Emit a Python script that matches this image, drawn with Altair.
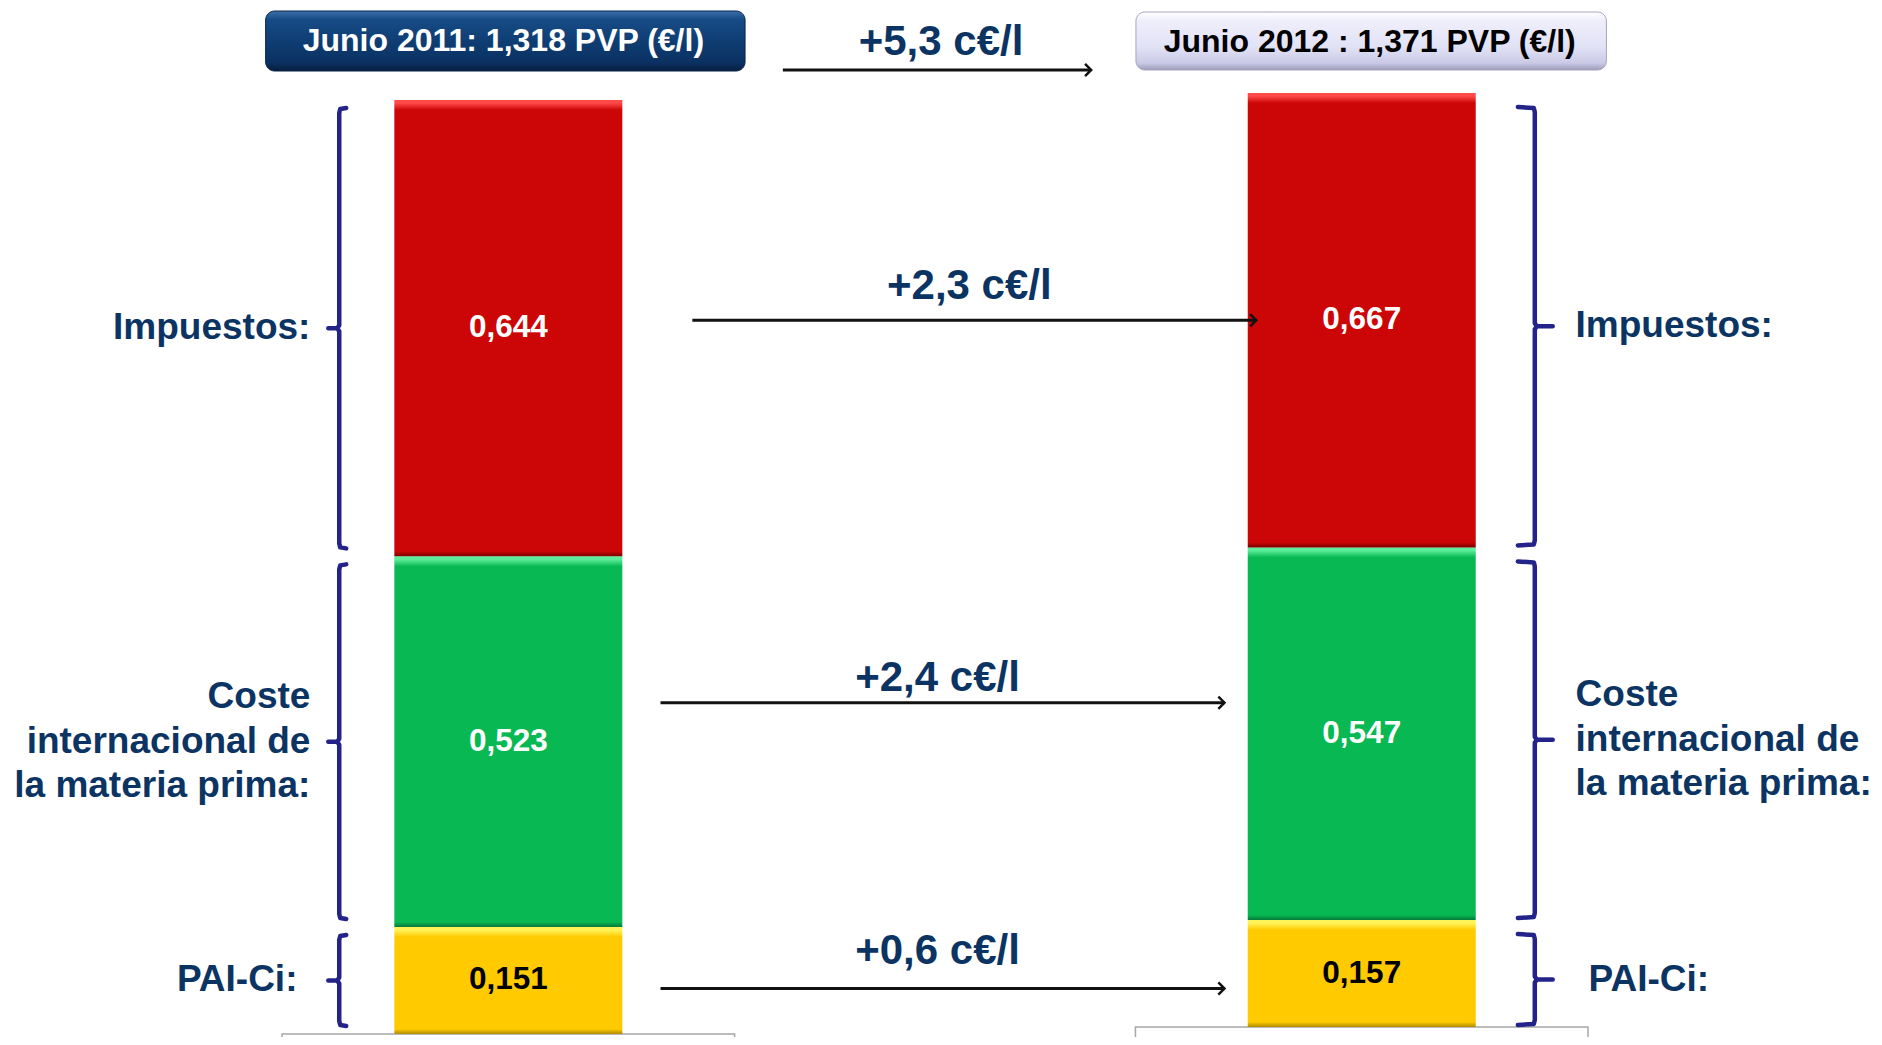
import altair as alt
import pandas as pd

# ---------------- data ----------------
YEARS = ["Junio 2011", "Junio 2012"]
HEADER_TEXT = ["Junio 2011: 1,318 PVP (€/l)", "Junio 2012 : 1,371 PVP (€/l)"]
PVP = [1.318, 1.371]
COMPONENTS = ["PAI-Ci", "Coste internacional de la materia prima", "Impuestos"]  # bottom -> top
COMPONENT_LABELS = ["PAI-Ci:", "Coste\ninternacional de\nla materia prima:", "Impuestos:"]
VALUES_2011 = [0.151, 0.523, 0.644]
VALUES_2012 = [0.157, 0.547, 0.667]

# ---------------- layout / style (pixels) ----------------
W, H = 1866, 1029
X0, DX = 498, 858          # pixel of first bar centre, pixels between bar centres
Y0, HY = 1026, 934         # pixel of stack base, pixels of a full (normalised) stack
YSHIFT = [0, -7]           # vertical offset of each bar
BRACE_SHIFT = [0, 6]       # extra vertical offset of each side's brackets
BAR_W = 228
FONT = "Liberation Sans"
NAVY = "#0B3463"
BRACE = "#23238A"
LINE_H = 44.5


def ux(px):
    return (px - X0) / DX


def uy(py):
    return (Y0 - py) / HY


def fy(frac, shift=0):
    return Y0 - HY * frac + shift


xs = alt.Scale(domain=[ux(0), ux(W)], nice=False, zero=False)
ys = alt.Scale(domain=[uy(H), uy(0)], nice=False, zero=False)


def X(f="x"):
    return alt.X(f"{f}:Q", scale=xs, axis=None)


def Y(f="y"):
    return alt.Y(f"{f}:Q", scale=ys, axis=None)


def fmt(v):
    return f"{v:.3f}".replace(".", ",")


# stacked (normalised) segments
rows = []
for i, vals in enumerate([VALUES_2011, VALUES_2012]):
    total = sum(vals)
    acc = 0.0
    for j, v in enumerate(vals):
        y0 = acc / total
        acc += v
        y1 = acc / total
        rows.append(dict(year=YEARS[i], idx=i, comp=COMPONENTS[j], j=j, value=v,
                         x=i, y=y0, y2=y1, mid=(y0 + y1) / 2, text=fmt(v)))
seg = pd.DataFrame(rows)

PALETTE = [("#FFF35A", "#FFCA00", "#B08A00"),
           ("#5CEE9A", "#08B852", "#05783A"),
           ("#FF4A4A", "#CC0606", "#780000")]
TEXT_COL = ["black", "white", "white"]

layers = []

# grey base boxes (partly visible below the bars)
for i in range(2):
    d = pd.DataFrame({"x": [i - 227.5 / DX], "x2": [i + 227.5 / DX], "y": [0.0]})
    layers.append(
        alt.Chart(d).mark_rect(fillOpacity=0, stroke="#A6A6A6", strokeWidth=1.5,
                               yOffset=YSHIFT[i])
        .encode(x=X("x"), x2="x2:Q", y=Y("y"), y2=alt.value(H + 60))
    )

# bars
for i in range(2):
    for j in range(3):
        d = seg[(seg.idx == i) & (seg.j == j)]
        h = HY * float(d.y2.iloc[0] - d.y.iloc[0])
        light, base, dark = PALETTE[j]
        grad = alt.Gradient(
            gradient="linear", x1=0, x2=0, y1=0, y2=1,
            stops=[alt.GradientStop(color=light, offset=0),
                   alt.GradientStop(color=light, offset=3 / h),
                   alt.GradientStop(color=base, offset=min(10 / h, 0.3)),
                   alt.GradientStop(color=base, offset=1 - 5 / h),
                   alt.GradientStop(color=dark, offset=1)])
        layers.append(
            alt.Chart(d).mark_bar(size=BAR_W, color=grad, yOffset=YSHIFT[i], y2Offset=YSHIFT[i])
            .encode(x=X("x"), y=Y("y"), y2="y2:Q")
        )
        layers.append(
            alt.Chart(d).mark_text(font=FONT, fontSize=31.5, fontWeight="bold",
                                   color=TEXT_COL[j], yOffset=YSHIFT[i], baseline="middle")
            .encode(x=X("x"), y=Y("mid"), text="text:N")
        )

# curly brackets and component labels
TIP = [7, 17]
POINT = [11, 18]
VX = [328, 1530]
GAP = 8
LABEL_X = [299, 1571]
LABEL_NUDGE = [13, 0, 0]   # outward shift of each component's label
brace_rows = []
label_rows = []
for r in seg.itertuples():
    side = r.idx
    sgn = 1 if side == 0 else -1
    sh = YSHIFT[side] + BRACE_SHIFT[side]
    top = fy(r.y2, sh) + GAP
    bot = fy(r.y, sh) - GAP
    mid = fy(r.mid, sh)
    vx = VX[side]
    tip = vx + sgn * TIP[side]
    pt = vx - sgn * POINT[side]
    pts = [(tip, top), (vx + sgn * 1, top + 1), (vx, top + 5), (vx, mid - 3), (vx - sgn * 2, mid),
           (pt, mid), (vx - sgn * 2, mid), (vx, mid + 3), (vx, bot - 5), (vx + sgn * 1, bot - 1),
           (tip, bot)]
    for k, (px, py) in enumerate(pts):
        brace_rows.append(dict(key=f"{side}-{r.j}", k=k, x=ux(px), y=uy(py)))
    lab = COMPONENT_LABELS[r.j]
    nlines = lab.count("\n") + 1
    label_rows.append(dict(side=side, x=ux(LABEL_X[side] - sgn * LABEL_NUDGE[r.j]),
                           y=uy(mid - (nlines - 1) * LINE_H / 2), label=lab))
braces = pd.DataFrame(brace_rows)
labels = pd.DataFrame(label_rows)

layers.append(
    alt.Chart(braces).mark_line(color=BRACE, strokeWidth=4.5, strokeJoin="round", strokeCap="round")
    .encode(x=X("x"), y=Y("y"), detail="key:N", order="k:Q")
)
for side, align in [(0, "right"), (1, "left")]:
    layers.append(
        alt.Chart(labels[labels.side == side]).mark_text(
            font=FONT, fontSize=37, fontWeight="bold", color=NAVY, align=align,
            baseline="middle", lineBreak="\n", lineHeight=LINE_H)
        .encode(x=X("x"), y=Y("y"), text="label:N")
    )

# change arrows
ARROW_X = [(651, 1218), (651, 1218), (683, 1250)]
ARROW_DY = [15, -31, 0]
TEXT_GAP = [38, 25, 34]
arrow_rows = []
for j in range(3):
    d11 = VALUES_2011[j]
    d12 = VALUES_2012[j]
    lab = "+" + f"{(d12 - d11) * 100:.1f}".replace(".", ",") + " c€/l"
    r = seg[(seg.idx == 1) & (seg.j == j)].iloc[0]
    ay = fy(r.mid, YSHIFT[1]) + ARROW_DY[j]
    x0, x1 = ARROW_X[j]
    arrow_rows.append(dict(x=ux(x0), x2=ux(x1), y=uy(ay), tx=ux((x0 + x1) / 2 - 5),
                           ty=uy(ay - TEXT_GAP[j]), label=lab))
tot_lab = "+" + f"{(PVP[1] - PVP[0]) * 100:.1f}".replace(".", ",") + " c€/l"
arrow_rows.append(dict(x=ux(774), x2=ux(1084), y=uy(62), tx=ux(933), ty=uy(34), label=tot_lab))
arrows = pd.DataFrame(arrow_rows)

CHEV = "M-1,-1L0,0L-1,1"
layers.append(
    alt.Chart(arrows).mark_rule(color="#111111", strokeWidth=3)
    .encode(x=X("x"), x2="x2:Q", y=Y("y"))
)
layers.append(
    alt.Chart(arrows).mark_point(shape=CHEV, size=150, filled=False, stroke="#111111",
                                 strokeWidth=2.5, opacity=1)
    .encode(x=X("x2"), y=Y("y"))
)
layers.append(
    alt.Chart(arrows).mark_text(font=FONT, fontSize=42, fontWeight="bold", color=NAVY,
                                baseline="middle")
    .encode(x=X("tx"), y=Y("ty"), text="label:N")
)

# header boxes
HDR = [dict(l=254, r=736, t=3, b=63, tx=493, ty=33, fg="white", stroke="#082448",
            stops=[("#3C70AA", 0), ("#174B86", 0.14), ("#0E3C71", 0.55), ("#0B3162", 0.86), ("#061E3E", 1)]),
       dict(l=1129, r=1602, t=4, b=62, tx=1364, ty=34, fg="black", stroke="#A5A5C0",
            stops=[("#FFFFFF", 0), ("#EEEEFB", 0.15), ("#E2E2F6", 0.6), ("#CACAE6", 0.88), ("#9C9CBA", 1)])]
for i in range(2):
    h = HDR[i]
    d = pd.DataFrame({"x": [ux(h["l"])], "x2": [ux(h["r"])], "tx": [ux(h["tx"])], "label": [HEADER_TEXT[i]]})
    grad = alt.Gradient(gradient="linear", x1=0, x2=0, y1=0, y2=1,
                        stops=[alt.GradientStop(color=c, offset=o) for c, o in h["stops"]])
    layers.append(
        alt.Chart(d).mark_rect(color=grad, cornerRadius=9, stroke=h["stroke"], strokeWidth=1)
        .encode(x=X("x"), x2="x2:Q", y=alt.value(h["t"]), y2=alt.value(h["b"]))
    )
    layers.append(
        alt.Chart(d).mark_text(font=FONT, fontSize=32, fontWeight="bold", color=h["fg"], baseline="middle")
        .encode(x=X("tx"), y=alt.value(h["ty"]), text="label:N")
    )

chart = (
    alt.layer(*layers)
    .properties(width=W, height=H, autosize=alt.AutoSizeParams(type="none"), padding=0,
                background="white")
    .configure_view(strokeWidth=0)
)

chart.save("out.html", embed_options={"renderer": "svg", "actions": False})
